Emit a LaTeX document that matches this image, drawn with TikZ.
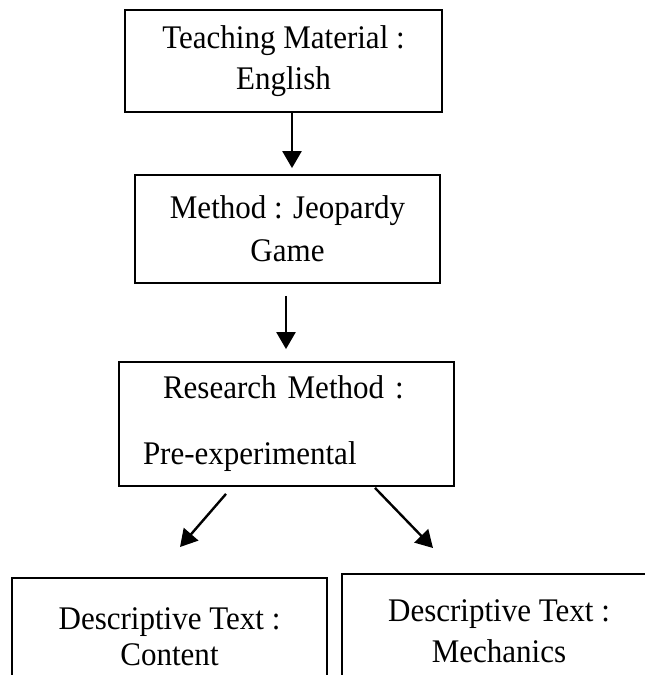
\documentclass[tikz,border=0pt]{standalone}
\usepackage{fontspec}
\setmainfont{Liberation Serif}[FakeStretch=0.94]
\usetikzlibrary{arrows.meta}
\tikzset{box/.style={draw,line width=1.8pt,align=center,inner sep=0pt,font=\fontsize{33}{41}\selectfont},
  arr/.style={line width=2.4pt,-{Triangle[length=17pt,width=19pt]}}}
\begin{document}
\begin{tikzpicture}[x=1pt,y=-1pt]
        \useasboundingbox (0,0) rectangle (645,675);
        \clip (0,0) rectangle (645,675);
        \node[box,minimum width=317pt,minimum height=102pt] (teach) at (283.5,61) {Teaching Material :\\English};
        \node[box,minimum width=305pt,minimum height=108pt] (method) at (287.5,229) {Method : Jeopardy\\[2pt]Game};
        \node[box,minimum width=335pt,minimum height=124pt,text width=311pt,align=left] (research) at (286.5,424) {\hspace*{32pt}Research Method :\\[25pt]\hspace*{12pt}Pre-experimental};
        \node[box,minimum width=315pt,minimum height=118pt] (content) at (169.5,637) {Descriptive Text :\\[-5pt]Content};
        \node[box,minimum width=314pt,minimum height=115pt] (mech) at (499,631.5) {Descriptive Text :\\Mechanics};
        \coordinate (ltip) at (180,547);
        \coordinate (rtip) at (433,548);
        \draw[arr,shorten >=6pt] ([xshift=8.5pt]teach.south) -- ([xshift=4.5pt]method.north);
        \draw[arr,shorten <=12pt,shorten >=12pt] ([xshift=-1.5pt]method.south) -- ([xshift=-0.5pt]research.north);
        \draw[arr] ([xshift=-60.5pt,yshift=-7pt]research.south) -- (ltip);
        \draw[arr] ([xshift=88.5pt,yshift=-1pt]research.south) -- (rtip);
      \end{tikzpicture}
\end{document}
